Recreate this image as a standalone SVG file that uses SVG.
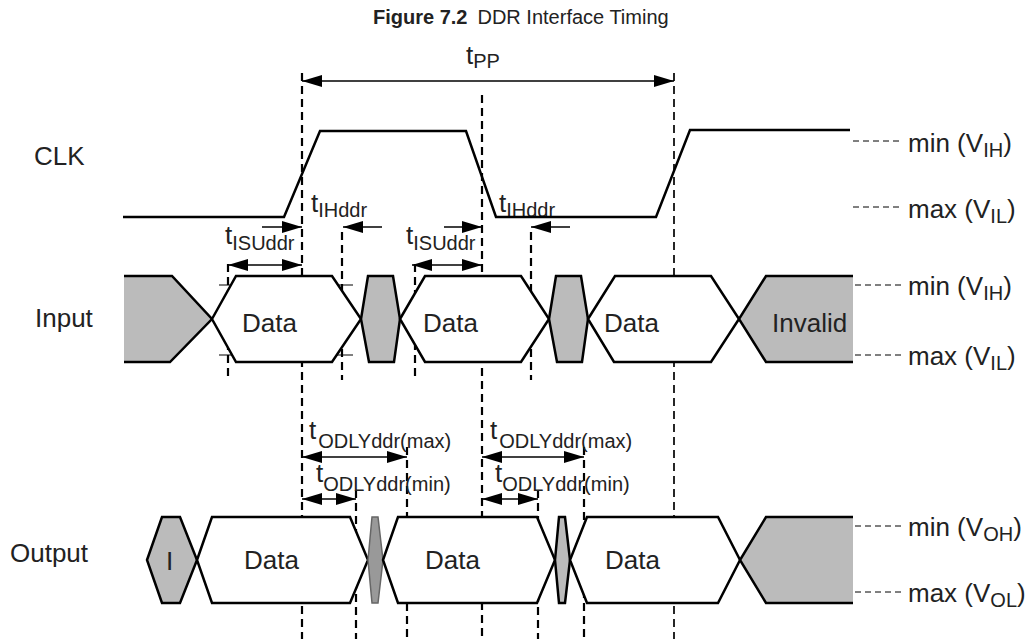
<svg xmlns="http://www.w3.org/2000/svg" width="1034" height="639" viewBox="0 0 1034 639">
<defs>
<style>
text{font-family:"Liberation Sans",Arial,sans-serif;fill:#222}
.lbl{font-size:26px}
.sub{font-size:20px}
.ttl{font-size:20px}
.wave{fill:none;stroke:#000;stroke-width:2.5;stroke-linejoin:miter}
.box{fill:#fff;stroke:#000;stroke-width:2.5}
.gray{fill:#bbbbbb;stroke:#000;stroke-width:2.5}
.dash{stroke:#000;stroke-width:2.2;stroke-dasharray:8 5;fill:none}
.dash2{stroke:#000;stroke-width:1.7;stroke-dasharray:8 5;fill:none}
.lvl{stroke:#000;stroke-width:1;stroke-dasharray:6 4;fill:none}
.arr{stroke:#000;stroke-width:1.5;fill:none}
.tick{stroke:#000;stroke-width:1;fill:none}
</style>
<marker id="ah" viewBox="0 0 20 12" refX="20" refY="6" markerWidth="20" markerHeight="12" markerUnits="userSpaceOnUse" orient="auto-start-reverse">
<path d="M0,0 L20,6 L0,12 z" fill="#000"/>
</marker>
</defs>
<rect width="1034" height="639" fill="#fff"/>

<g id="title">
<text x="373" y="24" class="ttl"><tspan font-weight="bold">Figure 7.2</tspan><tspan dx="10">DDR Interface Timing</tspan></text>
</g>

<g id="connectors">
<line class="dash" x1="302" y1="73" x2="302" y2="639"/>
<line class="dash" x1="482" y1="95" x2="482" y2="639"/>
<line class="dash2" x1="674" y1="73" x2="674" y2="639"/>
<line class="dash" x1="228" y1="264" x2="228" y2="380"/>
<line class="dash" x1="342" y1="232" x2="342" y2="380"/>
<line class="dash" x1="415" y1="264" x2="415" y2="380"/>
<line class="dash" x1="531" y1="232" x2="531" y2="380"/>
<line class="dash" x1="356" y1="490" x2="356" y2="639"/>
<line class="dash" x1="407" y1="447" x2="407" y2="639"/>
<line class="dash" x1="538" y1="490" x2="538" y2="639"/>
<line class="dash" x1="584" y1="447" x2="584" y2="639"/>
<line class="arr" x1="302" y1="81" x2="674" y2="81" marker-start="url(#ah)" marker-end="url(#ah)"/>
<line class="arr" x1="262" y1="227" x2="302" y2="227" marker-end="url(#ah)"/>
<line class="arr" x1="382" y1="227" x2="343" y2="227" marker-end="url(#ah)"/>
<line class="arr" x1="444" y1="227" x2="482" y2="227" marker-end="url(#ah)"/>
<line class="arr" x1="570" y1="227" x2="531" y2="227" marker-end="url(#ah)"/>
<line class="arr" x1="228" y1="265" x2="302" y2="265" marker-start="url(#ah)" marker-end="url(#ah)"/>
<line class="arr" x1="412" y1="265" x2="482" y2="265" marker-start="url(#ah)" marker-end="url(#ah)"/>
<line class="arr" x1="302" y1="457" x2="407" y2="457" marker-start="url(#ah)" marker-end="url(#ah)"/>
<line class="arr" x1="302" y1="499" x2="356" y2="499" marker-start="url(#ah)" marker-end="url(#ah)"/>
<line class="arr" x1="482" y1="457" x2="584" y2="457" marker-start="url(#ah)" marker-end="url(#ah)"/>
<line class="arr" x1="482" y1="499" x2="538" y2="499" marker-start="url(#ah)" marker-end="url(#ah)"/>
<line class="tick" x1="219" y1="285" x2="240" y2="285"/>
<line class="tick" x1="219" y1="355" x2="240" y2="355"/>
<line class="tick" x1="332" y1="285" x2="353" y2="285"/>
<line class="tick" x1="332" y1="355" x2="353" y2="355"/>
<line class="lvl" x1="853" y1="141" x2="902" y2="141"/>
<line class="lvl" x1="853" y1="207" x2="902" y2="207"/>
<line class="lvl" x1="855" y1="285" x2="902" y2="285"/>
<line class="lvl" x1="855" y1="355" x2="902" y2="355"/>
<line class="lvl" x1="855" y1="526" x2="902" y2="526"/>
<line class="lvl" x1="855" y1="592" x2="902" y2="592"/>
</g>

<g id="labels">
<text x="466" y="64" class="lbl">t<tspan class="sub" dy="4">PP</tspan></text>
<text x="311" y="212" class="lbl">t<tspan class="sub" dy="5">IHddr</tspan></text>
<text x="499" y="212" class="lbl">t<tspan class="sub" dy="5">IHddr</tspan></text>
<text x="225" y="244" class="lbl">t<tspan class="sub" dy="6">ISUddr</tspan></text>
<text x="406" y="244" class="lbl">t<tspan class="sub" dy="6">ISUddr</tspan></text>
<text x="309" y="439" class="lbl">t<tspan class="sub" dy="9" dx="2">ODLYddr(max)</tspan></text>
<text x="490" y="439" class="lbl">t<tspan class="sub" dy="9" dx="2">ODLYddr(max)</tspan></text>
<text x="316" y="482" class="lbl">t<tspan class="sub" dy="9">ODLYddr(min)</tspan></text>
<text x="495" y="482" class="lbl">t<tspan class="sub" dy="9">ODLYddr(min)</tspan></text>
</g>

<g id="clk">
<text x="34" y="165" class="lbl">CLK</text>
<polyline class="wave" points="123,217 284,217 320,131 466,131 496,217 656,217 690,130 850,130"/>
<text x="908" y="152" class="lbl">min (V<tspan class="sub" dy="5">IH</tspan><tspan dy="-5">)</tspan></text>
<text x="908" y="218" class="lbl">max (V<tspan class="sub" dy="5">IL</tspan><tspan dy="-5">)</tspan></text>
</g>

<g id="input">
<text x="35" y="327" class="lbl">Input</text>
<polygon points="124,276 172,276 212,319 170,362 124,362" fill="#bbbbbb"/>
<polyline class="wave" points="124,276 172,276 212,319 170,362 124,362"/>
<polygon class="box" points="212,319 236,276 332,276 361,319 332,362 236,362"/>
<polygon class="gray" points="361,319 368,276 393,276 400,319 394,362 369,362"/>
<polygon class="box" points="400,319 425,276 521,276 549,319 521,362 425,362"/>
<polygon class="gray" points="549,319 556,276 581,276 588,319 582,362 557,362"/>
<polygon class="box" points="588,319 615,276 711,276 739,319 711,362 614,362"/>
<polygon points="739,319 766,276 853,276 853,362 766,362" fill="#bbbbbb"/>
<polyline class="wave" points="853,276 766,276 739,319 766,362 853,362"/>
<text x="242" y="332" class="lbl">Data</text>
<text x="423" y="332" class="lbl">Data</text>
<text x="604" y="332" class="lbl">Data</text>
<text x="772" y="332" class="lbl">Invalid</text>
<text x="908" y="295" class="lbl">min (V<tspan class="sub" dy="5">IH</tspan><tspan dy="-5">)</tspan></text>
<text x="908" y="365" class="lbl">max (V<tspan class="sub" dy="5">IL</tspan><tspan dy="-5">)</tspan></text>
</g>

<g id="output">
<text x="10" y="562" class="lbl">Output</text>
<polygon class="gray" points="147,560 162,517 180,517 197,560 180,603 162,603"/>
<polygon class="box" points="197,560 212,517 350,517 368,560 350,603 212,603"/>
<polygon points="368,560 372,517 378,517 383,560 378,603 372,603" fill="#999999" stroke="#666" stroke-width="1.5"/>
<polygon class="box" points="383,560 398,517 537,517 555,560 537,603 398,603"/>
<polygon class="gray" points="555,560 559,517 565,517 570,560 565,603 559,603"/>
<polygon class="box" points="570,560 587,517 718,517 740,560 718,603 587,603"/>
<polygon points="740,560 766,517 853,517 853,603 766,603" fill="#bbbbbb"/>
<polyline class="wave" points="853,517 766,517 740,560 766,603 853,603"/>
<text x="166" y="570" class="lbl">I</text>
<text x="244" y="569" class="lbl">Data</text>
<text x="425" y="569" class="lbl">Data</text>
<text x="605" y="569" class="lbl">Data</text>
<text x="908" y="536" class="lbl">min (V<tspan class="sub" dy="5">OH</tspan><tspan dy="-5">)</tspan></text>
<text x="908" y="602" class="lbl">max (V<tspan class="sub" dy="5">OL</tspan><tspan dy="-5">)</tspan></text>
</g>
</svg>
